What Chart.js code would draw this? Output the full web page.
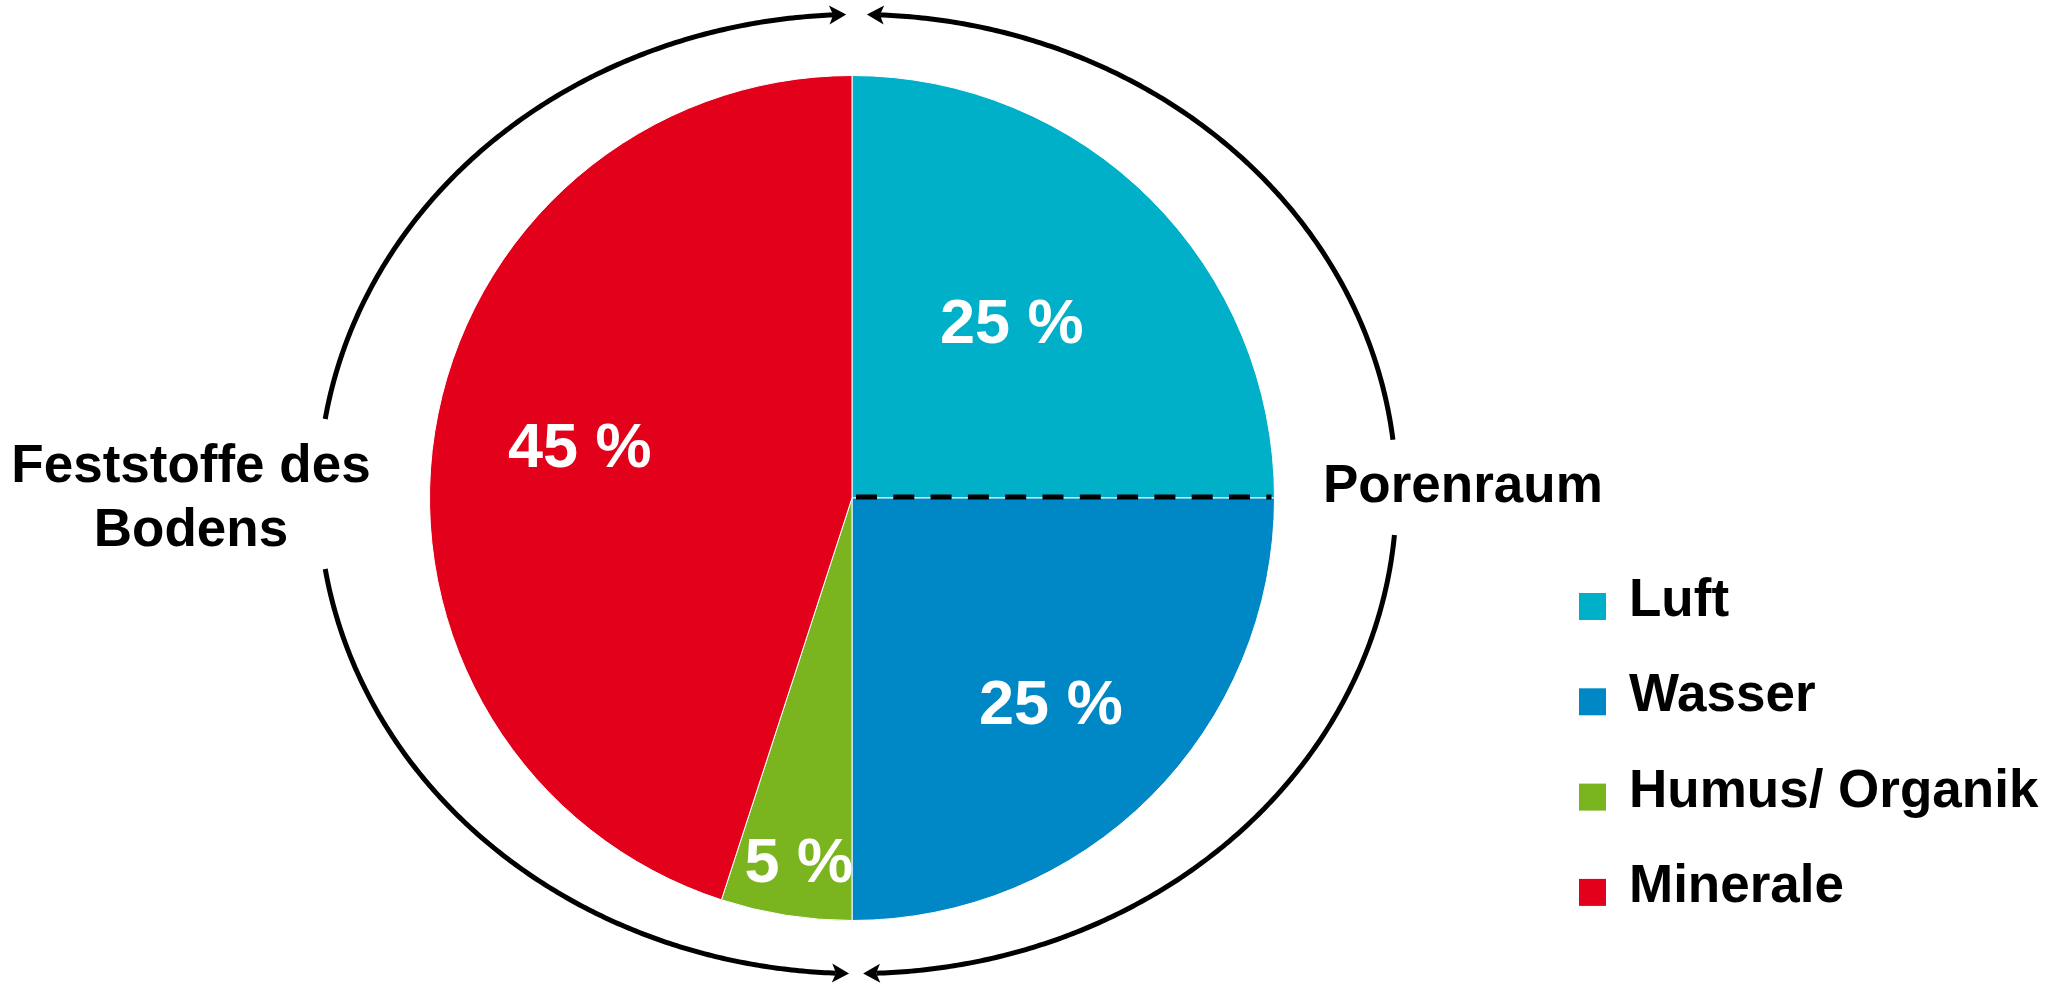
<!DOCTYPE html>
<html>
<head>
<meta charset="utf-8">
<script src="https://cdn.jsdelivr.net/npm/chart.js@4/dist/chart.umd.min.js"></script>
<style>
  html, body { margin: 0; padding: 0; background: #ffffff; }
  #wrap { width: 2055px; height: 984px; position: relative; }
  canvas { display: block; }
</style>
</head>
<body>
<div id="wrap"><canvas id="c" width="2055" height="984"></canvas></div>
<script>
// ---- data ----
const categories = ['Luft', 'Wasser', 'Humus/ Organik', 'Minerale'];
const shares = [25, 25, 5, 45];
const sliceColors = ['#00AFC8', '#0088C6', '#7AB51F', '#E2001A'];
const leftGroupLabel = ['Feststoffe des', 'Bodens'];
const rightGroupLabel = ['Porenraum'];

const FONT = '"Liberation Sans", Arial, Helvetica, sans-serif';

const decorPlugin = {
  id: 'decor',
  afterDatasetsDraw(chart, args, opts) {
    const ctx = chart.ctx;
    const meta = chart.getDatasetMeta(0);
    const a0 = meta.data[0].getProps(['x', 'y', 'outerRadius', 'endAngle'], true);
    const cx0 = a0.x, cy0 = a0.y, R = a0.outerRadius;

    // percentage labels inside slices
    ctx.save();
    ctx.fillStyle = '#ffffff';
    ctx.font = 'bold ' + opts.pctFont + 'px ' + FONT;
    ctx.textAlign = 'center';
    ctx.textBaseline = 'alphabetic';
    meta.data.forEach((arc, i) => {
      const p = arc.getProps(['startAngle', 'endAngle'], true);
      const mid = (p.startAngle + p.endAngle) / 2 + opts.labelAngleOffset[i] * Math.PI / 180;
      const r = opts.labelRadius[i] * R;
      const lx = cx0 + Math.cos(mid) * r;
      const ly = cy0 + Math.sin(mid) * r;
      ctx.fillText(shares[i] + ' %', lx, ly + opts.pctFont * 0.716 / 2);
    });
    ctx.restore();

    // dashed line between Luft and Wasser
    ctx.save();
    ctx.strokeStyle = '#000000';
    ctx.lineWidth = 5;
    ctx.setLineDash([21, 16.3]);
    const ang = a0.endAngle;
    ctx.beginPath();
    ctx.moveTo(cx0 + Math.cos(ang) * 4, cy0 - 1 + Math.sin(ang) * 4);
    ctx.lineTo(cx0 + Math.cos(ang) * (R - 3), cy0 - 1 + Math.sin(ang) * (R - 3));
    ctx.stroke();
    ctx.restore();

    // elliptical arrows around the pie
    const ex = cx0 + opts.ellipse.dx, ey = cy0 + opts.ellipse.dy;
    const rx = opts.ellipse.rx * R, ry = opts.ellipse.ry * R;
    const pt = (tDeg) => {
      const t = tDeg * Math.PI / 180;
      return [ex + rx * Math.sin(t), ey - ry * Math.cos(t)];
    };
    ctx.save();
    ctx.strokeStyle = '#000000';
    ctx.fillStyle = '#000000';
    ctx.lineWidth = 5;
    ctx.lineCap = 'butt';
    opts.arrows.forEach(([tFrom, tTip]) => {
      const dir = Math.sign(tTip - tFrom);
      const headLen = 16;
      const tBase = tTip - dir * (headLen / rx) * 180 / Math.PI;
      ctx.beginPath();
      const n = 200;
      for (let k = 0; k <= n; k++) {
        const t = tFrom + (tBase + dir * 0.3 - tFrom) * k / n;
        const [px, py] = pt(t);
        if (k === 0) ctx.moveTo(px, py); else ctx.lineTo(px, py);
      }
      ctx.stroke();
      const tip = pt(tTip), base = pt(tBase);
      let vx = tip[0] - base[0], vy = tip[1] - base[1];
      const L = Math.hypot(vx, vy); vx /= L; vy /= L;
      const nx = -vy, ny = vx, hw = 9.5;
      ctx.beginPath();
      ctx.moveTo(tip[0], tip[1]);
      ctx.lineTo(base[0] - vx * 1 + nx * hw, base[1] - vy * 1 + ny * hw);
      ctx.lineTo(base[0] + vx * 3, base[1] + vy * 3);
      ctx.lineTo(base[0] - vx * 1 - nx * hw, base[1] - vy * 1 - ny * hw);
      ctx.closePath();
      ctx.fill();
    });
    ctx.restore();

    // group labels
    ctx.save();
    ctx.fillStyle = '#000000';
    ctx.font = 'bold ' + opts.textFont + 'px ' + FONT;
    ctx.textBaseline = 'alphabetic';
    ctx.textAlign = 'center';
    leftGroupLabel.forEach((s, i) => {
      ctx.fillText(s, opts.leftLabel.x, opts.leftLabel.y + i * opts.leftLabel.lineH);
    });
    ctx.textAlign = 'left';
    rightGroupLabel.forEach((s, i) => {
      ctx.fillText(s, opts.rightLabel.x, opts.rightLabel.y + i * opts.leftLabel.lineH);
    });

    // legend
    categories.forEach((s, i) => {
      const top = opts.legend.y + i * opts.legend.step;
      ctx.fillStyle = sliceColors[i];
      ctx.fillRect(opts.legend.x, top, opts.legend.box, opts.legend.box);
      ctx.fillStyle = '#000000';
      ctx.fillText(s, opts.legend.textX, top + opts.legend.baseline);
    });
    ctx.restore();
  }
};

new Chart(document.getElementById('c'), {
  type: 'pie',
  data: {
    labels: categories,
    datasets: [{
      data: shares,
      backgroundColor: sliceColors,
      borderColor: '#ffffff',
      borderWidth: 1
    }]
  },
  options: {
    responsive: false,
    animation: false,
    events: [],
    layout: { padding: { top: 75, bottom: 63, left: 0, right: 351 } },
    plugins: {
      legend: { display: false },
      tooltip: { enabled: false },
      decor: {
        pctFont: 63,
        textFont: 53,
        labelRadius: [0.565, 0.674, 0.864, 0.657],
        labelAngleOffset: [-3, 0.7, -0.6, 2.2],
        ellipse: { dx: 5.5, dy: -4, rx: 1.2755, ry: 1.135 },
        arrows: [[-81, -1.2], [83.5, 1.0], [261, 180.9], [94.9, 179.4]],
        leftLabel: { x: 191, y: 482, lineH: 64 },
        rightLabel: { x: 1323, y: 502 },
        legend: { x: 1579, y: 593, step: 95.3, box: 27, textX: 1629, baseline: 23 }
      }
    }
  },
  plugins: [decorPlugin]
});
</script>
</body>
</html>
